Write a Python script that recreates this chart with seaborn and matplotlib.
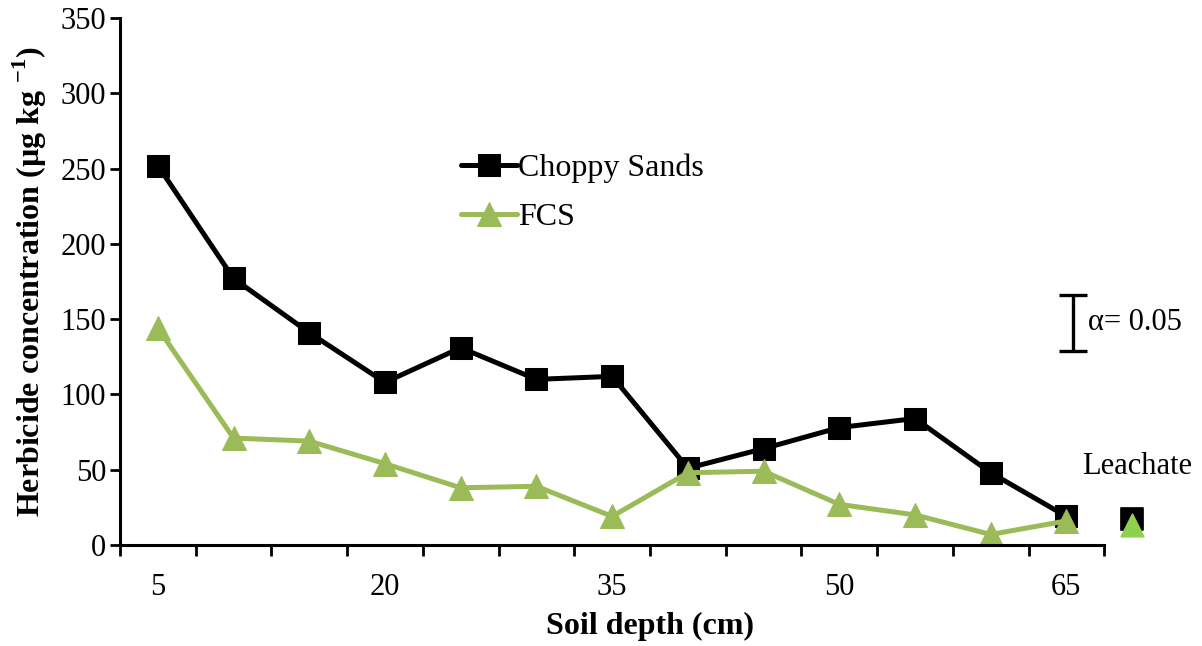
import numpy as np
import pandas as pd
import matplotlib.pyplot as plt
import seaborn as sns

depth = [5, 10, 15, 20, 25, 30, 35, 40, 45, 50, 55, 60, 65]
choppy = [252, 177, 141, 108, 131, 110, 112, 51, 64, 78, 84, 48, 19]
fcs = [144, 71, 69, 54, 38, 39, 19, 48, 49, 27, 20, 7, 16]
leach_choppy = 17
leach_fcs = 13
lsd_low, lsd_high = 129, 166

sns.set_style("white")
plt.rcParams['font.family'] = ['Liberation Serif', 'DejaVu Serif']
plt.rcParams['mathtext.fontset'] = 'custom'
plt.rcParams['mathtext.rm'] = 'Liberation Serif'
plt.rcParams['mathtext.bf'] = 'Liberation Serif:bold'
plt.rcParams['text.color'] = 'black'
plt.rcParams['axes.labelcolor'] = 'black'
plt.rcParams['xtick.color'] = 'black'
plt.rcParams['ytick.color'] = 'black'

df = pd.DataFrame({"depth": depth * 2,
                   "conc": choppy + fcs,
                   "soil": ["Choppy Sands"] * len(depth) + ["FCS"] * len(depth)})

fig = plt.figure(figsize=(12.02, 6.46), dpi=100)
ax = fig.add_axes([120 / 1202, 101 / 646, 1060 / 1202, 527 / 646])

green = "#9bbb59"
sns.lineplot(data=df[df.soil == "Choppy Sands"], x="depth", y="conc", ax=ax,
             color="black", lw=3.6, marker="s", markersize=16, mec="black",
             label="Choppy Sands")
sns.lineplot(data=df[df.soil == "FCS"], x="depth", y="conc", ax=ax,
             color=green, lw=3.6, marker="^", markersize=17, mec=green,
             label="FCS")

# leachate points sit past the end of the depth axis
leach_x = 69.35
sns.scatterplot(x=[leach_x], y=[leach_choppy], ax=ax, marker="s", s=240,
                color="black", edgecolor="black", legend=False, zorder=3)
sns.scatterplot(x=[leach_x], y=[leach_fcs], ax=ax, marker="^", s=260,
                color="#8fd14f", edgecolor="#8fd14f", legend=False, zorder=4)
ax.text(leach_x + 0.3, 52, "Leachate", fontsize=22, ha="center", va="center")

# LSD bar
ax.errorbar([65.45], [(lsd_low + lsd_high) / 2], yerr=[(lsd_high - lsd_low) / 2],
            color="black", lw=2.4, capsize=10, capthick=2.4)
ax.text(66.4, 148, "α= 0.05", fontsize=22, ha="left", va="center")

ax.set_xlim(2.5, 72.5)
ax.set_ylim(0, 350)
ax.set_yticks(np.arange(0, 351, 50))
ax.set_xticks(np.arange(2.5, 68, 5))
ax.set_xticklabels([])
ax.set_xticks([5, 20, 35, 50, 65], minor=True)
ax.set_xticklabels(["5", "20", "35", "50", "65"], minor=True)
ax.tick_params(axis="x", which="major", direction="out", length=8, width=2, bottom=True)
ax.tick_params(axis="x", which="minor", length=0, pad=20, labelsize=22)
ax.tick_params(axis="y", direction="out", length=7, width=2, left=True, labelsize=22, pad=3)

for s in ["top", "right"]:
    ax.spines[s].set_visible(False)
for s in ["left", "bottom"]:
    ax.spines[s].set_linewidth(2.2)
    ax.spines[s].set_color("black")
ax.spines["bottom"].set_bounds(2.5, 67.5)

ax.set_xlabel("Soil depth (cm)", fontsize=23, fontweight="bold", labelpad=7)
ax.set_ylabel(r"Herbicide concentration (µg kg $^{\mathbf{-1}}$)", fontsize=23,
              fontweight="bold", labelpad=8)

ax.legend(loc="upper left", bbox_to_anchor=(448 / 1202, 505 / 646),
          bbox_transform=fig.transFigure, frameon=False, fontsize=23,
          handlelength=1.75, handletextpad=0.05, labelspacing=0.62, borderaxespad=0)

fig.savefig("out.png", dpi=100)
